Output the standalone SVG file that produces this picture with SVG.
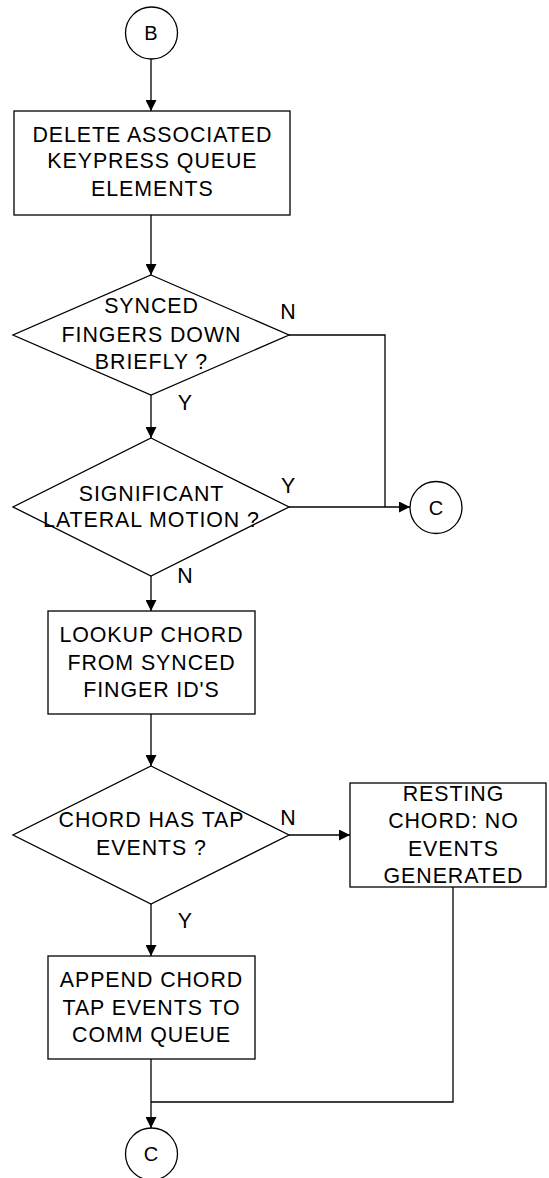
<svg xmlns="http://www.w3.org/2000/svg" width="549" height="1178" viewBox="0 0 549 1178">
<style>
.s{fill:#fff;stroke:#000;stroke-width:1.3}
.t{font-family:"Liberation Sans",Arial,sans-serif;font-size:23px;letter-spacing:1px;text-anchor:middle;fill:#000}
.c{font-family:"Liberation Sans",Arial,sans-serif;font-size:20px;text-anchor:middle;fill:#000}
.l{fill:none;stroke:#000;stroke-width:1.3}
</style>
<defs>
<marker id="ah" markerUnits="userSpaceOnUse" markerWidth="11" markerHeight="11" refX="11" refY="5.5" orient="auto">
<path d="M0,0 L11,5.5 L0,11 z" fill="#000"/>
</marker>
</defs>
<rect width="549" height="1178" fill="#fff"/>
<g id="connectors">
<path class="l" d="M151,59 V111" marker-end="url(#ah)"/>
<path class="l" d="M151,214 V275" marker-end="url(#ah)"/>
<path class="l" d="M289,335 H385 V507"/>
<path class="l" d="M151,395 V438" marker-end="url(#ah)"/>
<path class="l" d="M289,507 H410" marker-end="url(#ah)"/>
<path class="l" d="M151,576 V611" marker-end="url(#ah)"/>
<path class="l" d="M151,714 V766" marker-end="url(#ah)"/>
<path class="l" d="M289,835 H350" marker-end="url(#ah)"/>
<path class="l" d="M151,904 V956" marker-end="url(#ah)"/>
<path class="l" d="M151,1059 V1128" marker-end="url(#ah)"/>
<path class="l" d="M453,887 V1102 H151"/>
<g transform="scale(0.93,1)">
<text class="t" x="310.2" y="319.5">N</text>
<text class="t" x="199.4" y="410">Y</text>
<text class="t" x="310.2" y="493">Y</text>
<text class="t" x="199.4" y="583">N</text>
<text class="t" x="310.2" y="825">N</text>
<text class="t" x="199.4" y="928">Y</text>
</g>
</g>
<g id="startB">
<circle class="s" cx="151.5" cy="33" r="26"/>
<text class="c" x="151" y="40">B</text>
</g>
<g id="delete">
<rect class="s" x="14" y="111" width="276" height="104"/>
<g transform="scale(0.93,1)">
<text class="t" x="163.9" y="142">DELETE ASSOCIATED</text>
<text class="t" x="163.9" y="168.5">KEYPRESS QUEUE</text>
<text class="t" x="163.9" y="196.5">ELEMENTS</text>
</g>
</g>
<g id="synced">
<polygon class="s" points="151,275 289,335 151,395 13,335"/>
<g transform="scale(0.93,1)">
<text class="t" x="162.9" y="313">SYNCED</text>
<text class="t" x="162.9" y="342">FINGERS DOWN</text>
<text class="t" x="162.9" y="369">BRIEFLY ?</text>
</g>
</g>
<g id="lateral">
<polygon class="s" points="151,438 289,507 151,576 13,507"/>
<g transform="scale(0.93,1)">
<text class="t" x="162.9" y="501">SIGNIFICANT</text>
<text class="t" x="162.9" y="527">LATERAL MOTION ?</text>
</g>
</g>
<g id="connC1">
<circle class="s" cx="436" cy="507.5" r="26"/>
<text class="c" x="436" y="515">C</text>
</g>
<g id="lookup">
<rect class="s" x="48" y="611" width="207" height="103"/>
<g transform="scale(0.93,1)">
<text class="t" x="162.9" y="642.5">LOOKUP CHORD</text>
<text class="t" x="162.9" y="670">FROM SYNCED</text>
<text class="t" x="162.9" y="697">FINGER ID'S</text>
</g>
</g>
<g id="taps">
<polygon class="s" points="151,766 289,835 151,904 13,835"/>
<g transform="scale(0.93,1)">
<text class="t" x="162.9" y="827">CHORD HAS TAP</text>
<text class="t" x="162.9" y="855">EVENTS ?</text>
</g>
</g>
<g id="resting">
<rect class="s" x="350" y="783" width="196" height="104"/>
<g transform="scale(0.93,1)">
<text class="t" x="487.6" y="801">RESTING</text>
<text class="t" x="487.6" y="828">CHORD: NO</text>
<text class="t" x="487.6" y="856">EVENTS</text>
<text class="t" x="487.6" y="883">GENERATED</text>
</g>
</g>
<g id="append">
<rect class="s" x="48" y="956" width="207" height="103"/>
<g transform="scale(0.93,1)">
<text class="t" x="162.9" y="987">APPEND CHORD</text>
<text class="t" x="162.9" y="1015">TAP EVENTS TO</text>
<text class="t" x="162.9" y="1042">COMM QUEUE</text>
</g>
</g>
<g id="connC2">
<circle class="s" cx="151.5" cy="1154" r="26"/>
<text class="c" x="151" y="1161">C</text>
</g>
</svg>
